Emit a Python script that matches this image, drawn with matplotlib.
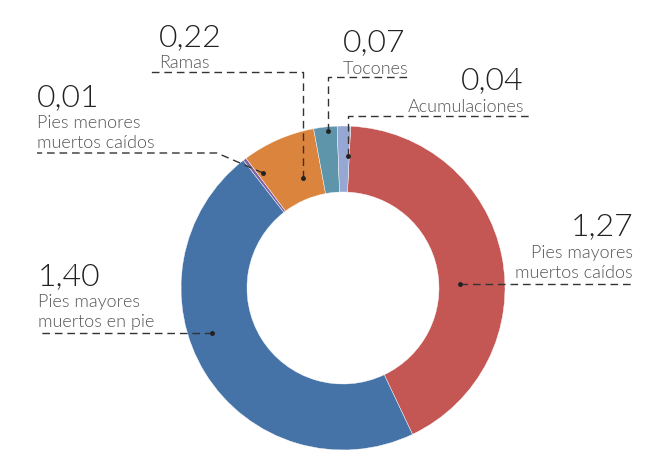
import matplotlib.pyplot as plt

# Data
labels = ['Pies mayores\nmuertos caídos', 'Pies mayores\nmuertos en pie', 'Pies menores\nmuertos caídos',
          'Ramas', 'Tocones', 'Acumulaciones']
values = [1.27, 1.40, 0.01, 0.22, 0.07, 0.04]
colors = ['#C45654', '#4673A7', '#8064A2', '#DB843D', '#5E95AB', '#95A7D2']

H = 450
def Y(y):
    return H - y

fig = plt.figure(figsize=(6.69, 4.5), dpi=100)
ax = fig.add_axes([0, 0, 1, 1])

# Donut
ax.pie(values, colors=colors, startangle=87.3, counterclock=False,
       center=(343, Y(288)), radius=162, frame=True,
       wedgeprops=dict(width=66, linewidth=0.3, edgecolor='white'))
ax.set_xlim(0, 669)
ax.set_ylim(0, H)
ax.set_aspect('equal')
ax.axis('off')

# Annotation layout: text x, alignment, number baseline, label baseline, leader path (pixels)
ann = [
    (633, 'right', 235, 258, [(460, 284), (633, 284)]),
    (38, 'left', 285, 307, [(212, 333), (37, 333)]),
    (37, 'left', 106, 128, [(263, 173), (217, 153), (37, 153)]),
    (159, 'left', 46, 68, [(303, 178), (303, 72), (151, 72)]),
    (343, 'left', 51, 74, [(328, 131), (328, 77), (407, 77)]),
    (524, 'right', 89, 112, [(348, 156), (348, 116), (532, 116)]),
]

for v, lab, (tx, ha, ny, ly, path) in zip(values, labels, ann):
    num = f'{v:.2f}'.replace('.', ',')
    ax.text(tx, Y(ny), num, ha=ha, va='baseline', fontsize=23,
            family='Lato', weight=300, color='#222222')
    for i, line in enumerate(lab.split('\n')):
        ax.text(tx, Y(ly + 20 * i), line, ha=ha, va='baseline', fontsize=13,
                family='Lato', weight=300, color='#555555')
    xs = [p[0] for p in path]
    ys = [Y(p[1]) for p in path]
    ax.plot(xs, ys, color='#333333', lw=1, dashes=(5.5, 3.5))
    ax.plot(xs[0], ys[0], 'o', color='#222222', ms=2.5)

plt.savefig('out.png', dpi=100)
